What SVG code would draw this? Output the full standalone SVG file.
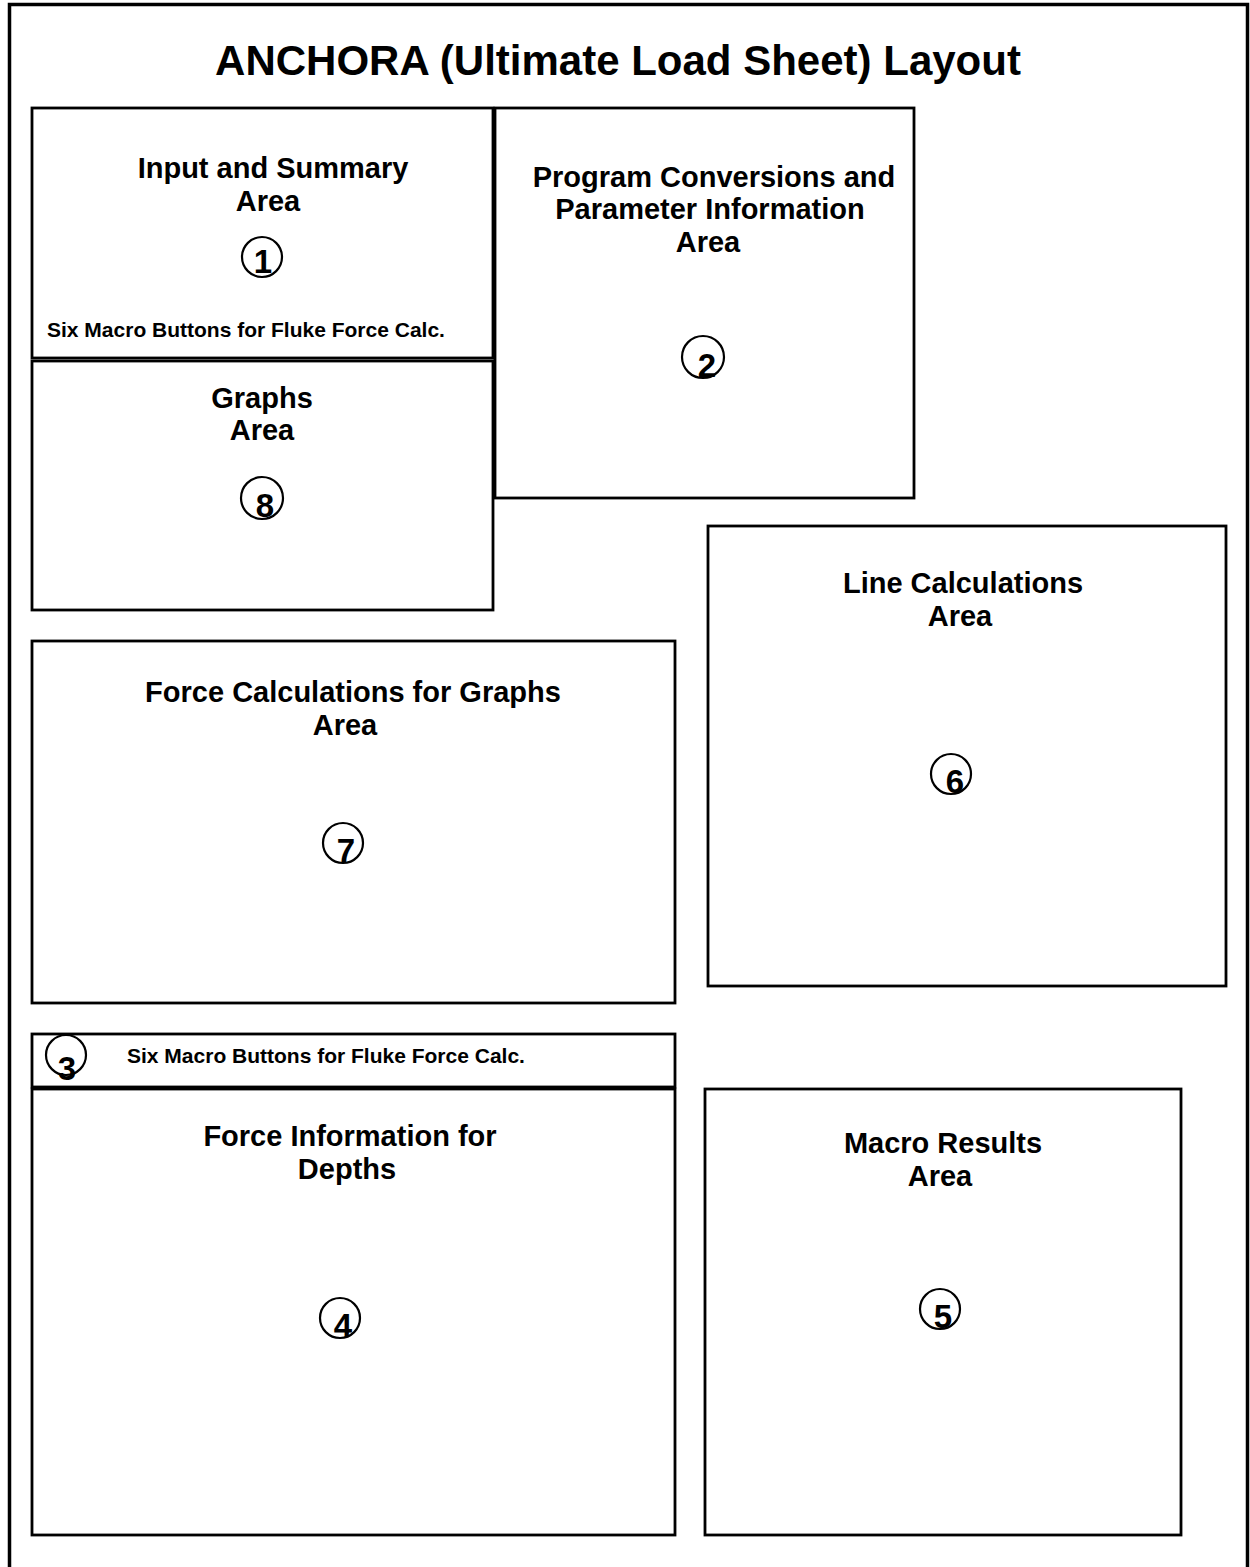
<svg xmlns="http://www.w3.org/2000/svg" width="1250" height="1567" viewBox="0 0 1250 1567">
<style>
.box{fill:#fff;stroke:#000;stroke-width:2.8}
.frame{fill:none;stroke:#000;stroke-width:3.5}
.circ{fill:none;stroke:#000;stroke-width:2.2}
text{font-family:"Liberation Sans",Arial,sans-serif;font-weight:bold;fill:#000}
.title{font-size:42px;text-anchor:middle}
.lbl{font-size:29px;text-anchor:middle}
.small{font-size:21px}
.num{font-size:33px;text-anchor:middle}
</style>
<rect width="1250" height="1567" fill="#fff"/>
<path class="frame" d="M9.5,1575 V4.5 H1247.5 V1575"/>
<text class="title" x="618" y="75">ANCHORA (Ultimate Load Sheet) Layout</text>
<g id="area1">
<rect class="box" x="32" y="108" width="461" height="250"/>
<text class="lbl" x="273" y="178">Input and Summary</text>
<text class="lbl" x="268" y="211">Area</text>
<circle class="circ" cx="262" cy="257" r="20"/>
<text class="num" x="263" y="273">1</text>
<text class="small" x="47" y="337">Six Macro Buttons for Fluke Force Calc.</text>
</g>
<g id="area8">
<rect class="box" x="32" y="361" width="461" height="249"/>
<text class="lbl" x="262" y="408">Graphs</text>
<text class="lbl" x="262" y="440">Area</text>
<circle class="circ" cx="262" cy="498" r="21"/>
<text class="num" x="265" y="517">8</text>
</g>
<g id="area2">
<rect class="box" x="495" y="108" width="419" height="390"/>
<text class="lbl" x="714" y="187">Program Conversions and</text>
<text class="lbl" x="710" y="219">Parameter Information</text>
<text class="lbl" x="708" y="252">Area</text>
<circle class="circ" cx="703" cy="357" r="21"/>
<text class="num" x="707" y="377">2</text>
</g>
<g id="area6">
<rect class="box" x="708" y="526" width="518" height="460"/>
<text class="lbl" x="963" y="593">Line Calculations</text>
<text class="lbl" x="960" y="626">Area</text>
<circle class="circ" cx="951" cy="774" r="20"/>
<text class="num" x="955" y="793">6</text>
</g>
<g id="area7">
<rect class="box" x="32" y="641" width="643" height="362"/>
<text class="lbl" x="353" y="702">Force Calculations for Graphs</text>
<text class="lbl" x="345" y="735">Area</text>
<circle class="circ" cx="343" cy="843" r="20"/>
<text class="num" x="346" y="862">7</text>
</g>
<g id="area3">
<rect class="box" x="32" y="1034" width="643" height="53"/>
<circle class="circ" cx="66" cy="1055" r="20"/>
<text class="num" x="67" y="1080">3</text>
<text class="small" x="127" y="1063">Six Macro Buttons for Fluke Force Calc.</text>
</g>
<g id="area4">
<rect class="box" x="32" y="1089" width="643" height="446"/>
<text class="lbl" x="350" y="1146">Force Information for</text>
<text class="lbl" x="347" y="1179">Depths</text>
<circle class="circ" cx="340" cy="1318" r="20"/>
<text class="num" x="343" y="1337">4</text>
</g>
<g id="area5">
<rect class="box" x="705" y="1089" width="476" height="446"/>
<text class="lbl" x="943" y="1153">Macro Results</text>
<text class="lbl" x="940" y="1186">Area</text>
<circle class="circ" cx="940" cy="1309" r="20"/>
<text class="num" x="943" y="1328">5</text>
</g>
<g id="connectors"></g>
</svg>
